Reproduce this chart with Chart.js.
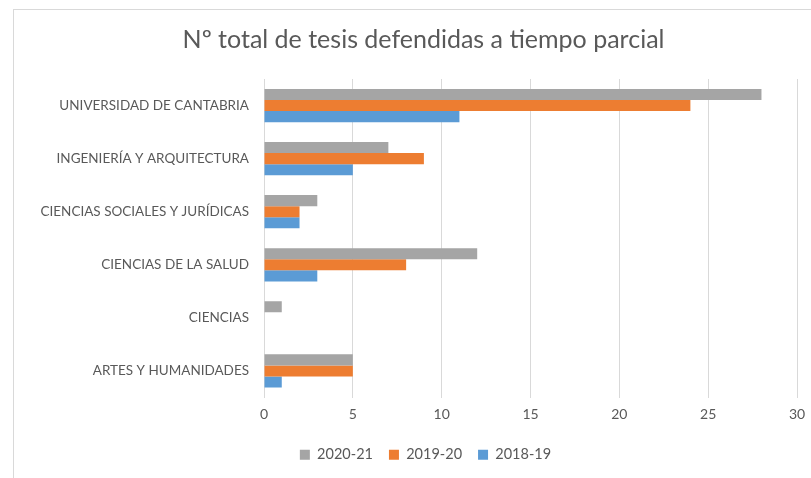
<!DOCTYPE html>
<html>
<head>
<meta charset="utf-8">
<script src="https://cdn.jsdelivr.net/npm/chart.js@4/dist/chart.umd.min.js"></script>
<style>
  html, body { margin: 0; padding: 0; background: #fff; overflow: hidden; }
  #wrap { position: relative; width: 811px; height: 478px; }
  #frame { position: absolute; left: 13px; top: 9px; width: 900px; height: 600px;
           border-left: 1px solid #d9d9d9; border-top: 1px solid #d9d9d9; }
  canvas { position: absolute; left: 0; top: 0; }
</style>
</head>
<body>
<div id="wrap">
  <div id="frame"></div>
  <canvas id="grafico" width="811" height="478"></canvas>
</div>
<script>
// datos
const categorias = ['UNIVERSIDAD DE CANTABRIA', 'INGENIERÍA Y ARQUITECTURA', 'CIENCIAS SOCIALES Y JURÍDICAS',
  'CIENCIAS DE LA SALUD', 'CIENCIAS', 'ARTES Y HUMANIDADES'];
const curso2021 = [28, 7, 3, 12, 1, 5];
const curso1920 = [24, 9, 2, 8, 0, 5];
const curso1819 = [11, 5, 2, 3, 0, 1];
const ticksX = [0, 5, 10, 15, 20, 25, 30];

const gris = '#595959';
const fuente = 'Lato, "Open Sans", sans-serif';

// mueve titulo y leyenda en horizontal como en Excel
const desplazar = {
  id: 'desplazar',
  afterLayout(chart) {
    const t = chart.titleBlock;
    if (t) { t.left += 25; t.right += 25; }
    const l = chart.legend;
    if (l) { l.left += 27; l.right += 27; }
  }
};

new Chart(document.getElementById('grafico'), {
  type: 'bar',
  data: {
    labels: categorias,
    datasets: [
      { label: '2020-21', data: curso2021, backgroundColor: '#a5a5a5' },
      { label: '2019-20', data: curso1920, backgroundColor: '#ed7d31' },
      { label: '2018-19', data: curso1819, backgroundColor: '#5b9bd5' }
    ]
  },
  options: {
    indexAxis: 'y',
    responsive: false,
    animation: false,
    categoryPercentage: 0.625,
    barPercentage: 1.0,
    layout: { padding: { left: 0, right: 14, top: 0, bottom: 6 } },
    scales: {
      x: {
        min: 0, max: 30,
        afterBuildTicks(scale) { scale.ticks = ticksX.map(v => ({ value: v })); },
        afterFit(scale) { scale.height = 34; },
        grid: { color: '#d9d9d9', drawTicks: true, tickLength: 5, tickColor: 'rgba(0,0,0,0)' },
        border: { display: false },
        ticks: { color: gris, padding: 4, font: { family: fuente, size: 14 } }
      },
      y: {
        afterFit(scale) { scale.width = 264; },
        grid: { display: false, drawTicks: false },
        border: { display: false },
        ticks: { color: gris, padding: 15, font: { family: fuente, size: 13.5 } }
      }
    },
    plugins: {
      title: {
        display: true,
        text: 'Nº total de tesis defendidas a tiempo parcial',
        color: gris,
        font: { family: fuente, size: 25, weight: 'normal' },
        padding: { top: 25, bottom: 24 }
      },
      legend: {
        position: 'bottom',
        labels: {
          color: gris,
          boxWidth: 10, boxHeight: 10,
          padding: 16,
          font: { family: fuente, size: 14.5 }
        }
      },
      tooltip: { enabled: false }
    }
  },
  plugins: [desplazar]
});
</script>
</body>
</html>
